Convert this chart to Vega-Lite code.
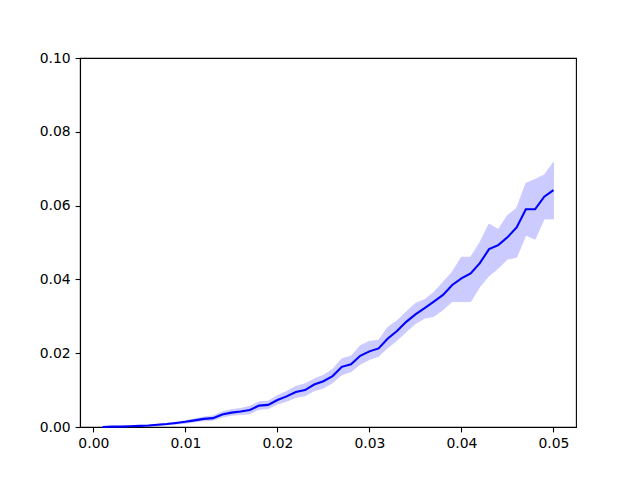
{
  "$schema": "https://vega.github.io/schema/vega-lite/v6.json",
  "autosize": "none",
  "width": 496,
  "height": 369,
  "padding": {"left": 80, "top": 58, "right": 64, "bottom": 53},
  "background": "white",
  "config": {
    "view": {"stroke": "black", "strokeWidth": 1.1},
    "axis": {
      "grid": false,
      "domainColor": "black",
      "domainWidth": 1.1,
      "tickColor": "black",
      "tickWidth": 1.1,
      "tickSize": 4.9,
      "labelPadding": 4.9,
      "labelFont": "DejaVu Sans",
      "labelFontSize": 13.9,
      "labelColor": "black",
      "title": null
    }
  },
  "data": {
    "values": [
      {"x": 0.001, "m": 0.0000, "lo": 0.0000, "hi": 0.0000},
      {"x": 0.002, "m": 0.0001, "lo": 0.0000, "hi": 0.0001},
      {"x": 0.003, "m": 0.0001, "lo": 0.0001, "hi": 0.0002},
      {"x": 0.004, "m": 0.0002, "lo": 0.0001, "hi": 0.0003},
      {"x": 0.005, "m": 0.0003, "lo": 0.0002, "hi": 0.0004},
      {"x": 0.006, "m": 0.0004, "lo": 0.0003, "hi": 0.0005},
      {"x": 0.007, "m": 0.0006, "lo": 0.0004, "hi": 0.0008},
      {"x": 0.008, "m": 0.0008, "lo": 0.0006, "hi": 0.0010},
      {"x": 0.009, "m": 0.0011, "lo": 0.0008, "hi": 0.0013},
      {"x": 0.010, "m": 0.0014, "lo": 0.0010, "hi": 0.0017},
      {"x": 0.011, "m": 0.0018, "lo": 0.0014, "hi": 0.0022},
      {"x": 0.012, "m": 0.0022, "lo": 0.0017, "hi": 0.0027},
      {"x": 0.013, "m": 0.0024, "lo": 0.0018, "hi": 0.0030},
      {"x": 0.014, "m": 0.0034, "lo": 0.0027, "hi": 0.0041},
      {"x": 0.015, "m": 0.0039, "lo": 0.0032, "hi": 0.0047},
      {"x": 0.016, "m": 0.0042, "lo": 0.0034, "hi": 0.0050},
      {"x": 0.017, "m": 0.0046, "lo": 0.0036, "hi": 0.0056},
      {"x": 0.018, "m": 0.0058, "lo": 0.0048, "hi": 0.0068},
      {"x": 0.019, "m": 0.0060, "lo": 0.0050, "hi": 0.0070},
      {"x": 0.020, "m": 0.0073, "lo": 0.0062, "hi": 0.0085},
      {"x": 0.021, "m": 0.0083, "lo": 0.0070, "hi": 0.0096},
      {"x": 0.022, "m": 0.0095, "lo": 0.0080, "hi": 0.0110},
      {"x": 0.023, "m": 0.0100, "lo": 0.0085, "hi": 0.0117},
      {"x": 0.024, "m": 0.0115, "lo": 0.0098, "hi": 0.0130},
      {"x": 0.025, "m": 0.0124, "lo": 0.0106, "hi": 0.0140},
      {"x": 0.026, "m": 0.0138, "lo": 0.0120, "hi": 0.0156},
      {"x": 0.027, "m": 0.0163, "lo": 0.0142, "hi": 0.0185},
      {"x": 0.028, "m": 0.0170, "lo": 0.0150, "hi": 0.0192},
      {"x": 0.029, "m": 0.0193, "lo": 0.0170, "hi": 0.0220},
      {"x": 0.030, "m": 0.0205, "lo": 0.0183, "hi": 0.0232},
      {"x": 0.031, "m": 0.0213, "lo": 0.0192, "hi": 0.0235},
      {"x": 0.032, "m": 0.0240, "lo": 0.0215, "hi": 0.0270},
      {"x": 0.033, "m": 0.0260, "lo": 0.0235, "hi": 0.0288},
      {"x": 0.034, "m": 0.0285, "lo": 0.0258, "hi": 0.0312},
      {"x": 0.035, "m": 0.0305, "lo": 0.0280, "hi": 0.0335},
      {"x": 0.036, "m": 0.0322, "lo": 0.0295, "hi": 0.0345},
      {"x": 0.037, "m": 0.0340, "lo": 0.0300, "hi": 0.0365},
      {"x": 0.038, "m": 0.0358, "lo": 0.0318, "hi": 0.0392},
      {"x": 0.039, "m": 0.0385, "lo": 0.0340, "hi": 0.0420},
      {"x": 0.040, "m": 0.0403, "lo": 0.0340, "hi": 0.0460},
      {"x": 0.041, "m": 0.0416, "lo": 0.0340, "hi": 0.0460},
      {"x": 0.042, "m": 0.0444, "lo": 0.0380, "hi": 0.0500},
      {"x": 0.043, "m": 0.0482, "lo": 0.0410, "hi": 0.0550},
      {"x": 0.044, "m": 0.0493, "lo": 0.0430, "hi": 0.0535},
      {"x": 0.045, "m": 0.0514, "lo": 0.0455, "hi": 0.0573},
      {"x": 0.046, "m": 0.0541, "lo": 0.0460, "hi": 0.0593},
      {"x": 0.047, "m": 0.0590, "lo": 0.0520, "hi": 0.0660},
      {"x": 0.048, "m": 0.0590, "lo": 0.0509, "hi": 0.0671},
      {"x": 0.049, "m": 0.0624, "lo": 0.0564, "hi": 0.0683},
      {"x": 0.050, "m": 0.0642, "lo": 0.0564, "hi": 0.0717}
    ]
  },
  "encoding": {
    "x": {
      "field": "x", "type": "quantitative",
      "scale": {"domain": [-0.00145, 0.05245], "nice": false, "zero": false},
      "axis": {"values": [0, 0.01, 0.02, 0.03, 0.04, 0.05], "format": ".2f"}
    }
  },
  "layer": [
    {
      "mark": {"type": "area", "color": "#0000ff", "opacity": 0.2, "stroke": "#0000ff", "strokeWidth": 1, "strokeOpacity": 1},
      "encoding": {
        "y": {"field": "lo", "type": "quantitative",
          "scale": {"domain": [0, 0.1], "nice": false},
          "axis": {"values": [0, 0.02, 0.04, 0.06, 0.08, 0.1], "format": ".2f"}},
        "y2": {"field": "hi"}
      }
    },
    {
      "mark": {"type": "line", "color": "#0000ff", "strokeWidth": 2.08},
      "encoding": {
        "y": {"field": "m", "type": "quantitative"}
      }
    }
  ]
}
